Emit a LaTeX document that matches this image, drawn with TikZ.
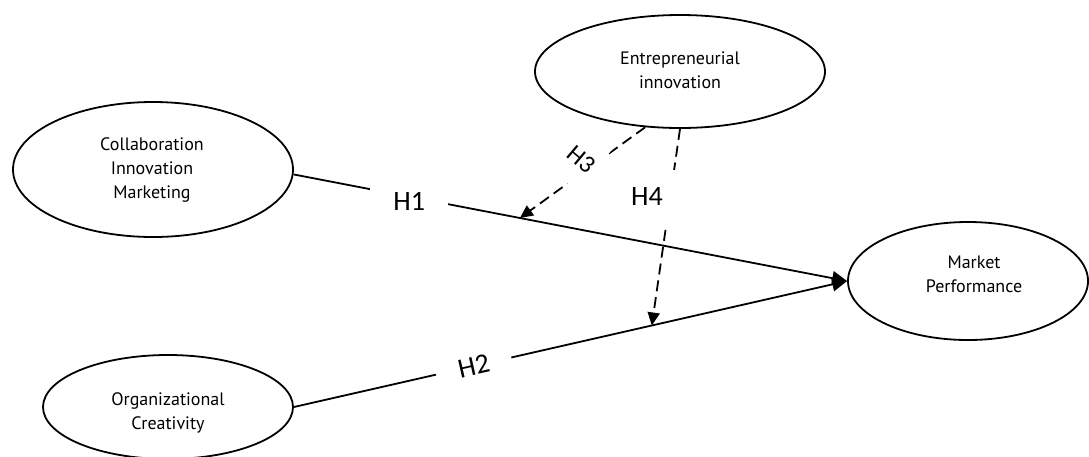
\documentclass[tikz,border=0pt]{standalone}
\usepackage{fontspec}
\setmainfont{PT Sans}
\newfontfamily\hfont{Carlito}
\usetikzlibrary{shapes.geometric,arrows.meta}
\begin{document}
\begin{tikzpicture}[x=1pt,y=-1pt,
  construct/.style={draw=black, line width=1.8pt, ellipse, inner sep=0pt},
  ctext/.style={align=center, font=\fontsize{18}{24}\selectfont, inner sep=0pt},
  relation/.style={line width=1.8pt, -{Triangle[length=15pt,width=14pt]}},
  moderation/.style={line width=1.8pt, dash pattern=on 11pt off 6pt,
                     -{Triangle[length=13pt,width=12pt]}},
  hlabel/.style={font=\hfont\fontsize{28}{30}\selectfont, fill=white, inner sep=0pt}
]
\useasboundingbox (0,0) rectangle (1089,456);

% constructs
\node[construct, minimum width=280pt, minimum height=135pt] (collab) at (153,169.5) {};
\node[construct, minimum width=290pt, minimum height=113pt] (entre)  at (680,71.5) {};
\node[construct, minimum width=240pt, minimum height=118pt] (market) at (968,281) {};
\node[construct, minimum width=250pt, minimum height=104pt] (org)    at (168,407) {};

\node[ctext] (collabtext) at (152,170) {Collaboration\\Innovation\\Marketing};
\node[ctext] (entretext)  at (680,70)  {Entrepreneurial\\innovation};
\node[ctext] (markettext) at (974,274) {Market\\Performance};
\node[ctext] (orgtext)    at (168,413) {Organizational\\Creativity};

% points where the moderating effects meet the direct paths
\path (collab.-2) -- coordinate[pos=0.409] (h1mid) (market.west);
\path (org.east)  -- coordinate[pos=0.647] (h2mid) (market.west);

% direct effects
\draw[relation] (collab.-2) --
  node[hlabel, pos=0.209, minimum width=78pt, minimum height=34pt, yshift=-5pt] (h1) {H1}
  (market.west);
\draw[relation] (org.east) --
  node[hlabel, sloped, pos=0.325, minimum width=77pt, minimum height=30pt] (h2) {H2}
  (market.west);

% moderating effects
\draw[moderation] (entre.238) --
  node[hlabel, font=\hfont\fontsize{25}{27}\selectfont, pos=0.48, rotate=-40,
       minimum width=34pt, minimum height=54pt, xshift=-10pt, yshift=6pt] (h3) {H3}
  (h1mid);
\draw[moderation] (entre.south) -- (h2mid);
\node[hlabel, minimum width=56pt, minimum height=55pt] (h4) at (647,197) {H4};
\end{tikzpicture}
\end{document}
